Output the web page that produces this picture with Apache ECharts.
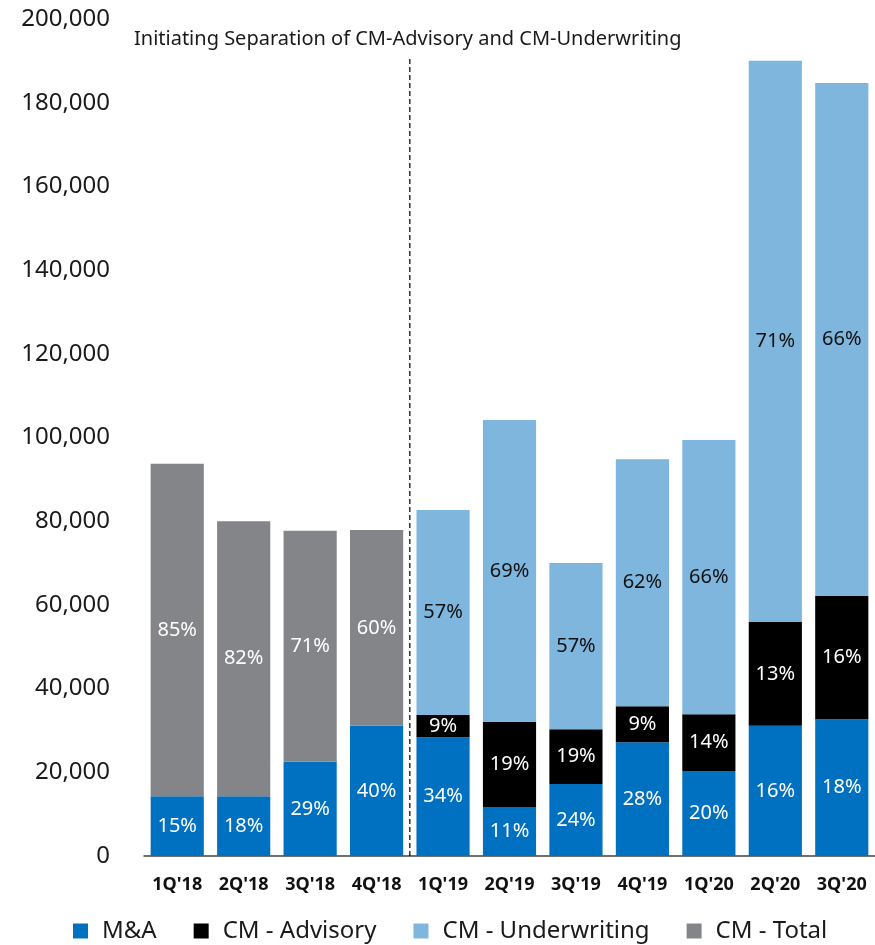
<!DOCTYPE html>
<html>
<head>
<meta charset="utf-8">
<script src="https://cdn.jsdelivr.net/npm/echarts@6/dist/echarts.min.js"></script>
<style>
  html, body { margin: 0; padding: 0; background: #fff; }
  #chart { width: 875px; height: 945px; }
</style>
</head>
<body>
<div id="chart"></div>
<script>
// Quarterly revenue by business line
const quarters = ["1Q'18", "2Q'18", "3Q'18", "4Q'18", "1Q'19", "2Q'19", "3Q'19", "4Q'19", "1Q'20", "2Q'20", "3Q'20"];

const mna          = [14300, 14300, 22500, 31100, 28400, 11700, 17200, 27200, 20300, 31100, 32700];
const cmAdvisory   = [null, null, null, null, 5300, 20300, 13100, 8600, 13600, 24800, 29400];
const cmUnderwrite = [null, null, null, null, 49000, 72200, 39700, 59000, 65500, 134100, 122600];
const cmTotal      = [79400, 65700, 55200, 46800, null, null, null, null, null, null, null];

// Share of each quarter's total, as printed on the bars
const mnaPct        = ['15%', '18%', '29%', '40%', '34%', '11%', '24%', '28%', '20%', '16%', '18%'];
const advisoryPct   = ['', '', '', '', '9%', '19%', '19%', '9%', '14%', '13%', '16%'];
const underwritePct = ['', '', '', '', '57%', '69%', '57%', '62%', '66%', '71%', '66%'];
const totalPct      = ['85%', '82%', '71%', '60%', '', '', '', '', '', '', ''];

const yTicks = { min: 0, max: 200000, interval: 20000 };
const noteText = 'Initiating Separation of CM-Advisory and CM-Underwriting';

// Divider between 4Q'18 and 1Q'19 (category index units), and its top value
const dividerAt = 3.5;
const dividerTop = 191000;

const FONT = '"Noto Sans", sans-serif';

function pctLabel(list, color) {
  return {
    show: true,
    position: 'inside',
    color: color,
    fontFamily: FONT,
    fontSize: 20,
    formatter: p => list[p.dataIndex] || ''
  };
}

const chart = echarts.init(document.getElementById('chart'));
chart.setOption({
  animation: false,
  textStyle: { fontFamily: FONT },
  title: {
    text: noteText,
    left: 129,
    top: 24,
    textStyle: { fontFamily: FONT, fontSize: 20, fontWeight: 'normal', color: '#1a1a1a' }
  },
  grid: { left: 144, right: 0, top: 19, bottom: 89, containLabel: false },
  legend: {
    bottom: -3,
    left: 68,
    icon: 'rect',
    itemWidth: 15,
    itemHeight: 15,
    itemGap: 37,
    textStyle: { fontFamily: FONT, fontSize: 24, color: '#1a1a1a', padding: [0, 0, 0, 9] },
    data: ['M&A', 'CM - Advisory', 'CM - Underwriting', 'CM - Total']
  },
  xAxis: [
    {
      type: 'category',
      data: quarters,
      axisLine: { lineStyle: { color: '#404040', width: 1.5 } },
      axisTick: { show: false },
      axisLabel: { interval: 0, fontFamily: FONT, fontSize: 18, fontWeight: 'bold', color: '#111', margin: 20 }
    },
    {
      // hidden linear twin of the category axis, used to place the divider between bars
      type: 'value',
      min: -0.5,
      max: quarters.length - 0.5,
      show: false
    }
  ],
  yAxis: {
    type: 'value',
    min: yTicks.min,
    max: yTicks.max,
    interval: yTicks.interval,
    splitLine: { show: false },
    axisLine: { show: false },
    axisTick: { show: false },
    axisLabel: {
      fontFamily: FONT, fontSize: 24, color: '#1a1a1a', margin: 34,
      formatter: v => v.toLocaleString('en-US')
    }
  },
  series: [
    {
      name: 'M&A', type: 'bar', stack: 'rev', data: mna,
      barCategoryGap: '20%',
      itemStyle: { color: '#0070C0' },
      label: pctLabel(mnaPct, '#ffffff')
    },
    {
      name: 'CM - Advisory', type: 'bar', stack: 'rev', data: cmAdvisory,
      itemStyle: { color: '#000000' },
      label: pctLabel(advisoryPct, '#ffffff')
    },
    {
      name: 'CM - Underwriting', type: 'bar', stack: 'rev', data: cmUnderwrite,
      itemStyle: { color: '#7FB6DE' },
      label: pctLabel(underwritePct, '#111111')
    },
    {
      name: 'CM - Total', type: 'bar', stack: 'rev', data: cmTotal,
      itemStyle: { color: '#848589' },
      label: pctLabel(totalPct, '#ffffff')
    },
    {
      name: 'divider', type: 'line', xAxisIndex: 1,
      data: [[dividerAt, 0], [dividerAt, dividerTop]],
      showSymbol: false,
      silent: true,
      lineStyle: { color: '#111', type: [5, 3], width: 1.3 },
      z: 5
    }
  ]
});
</script>
</body>
</html>
